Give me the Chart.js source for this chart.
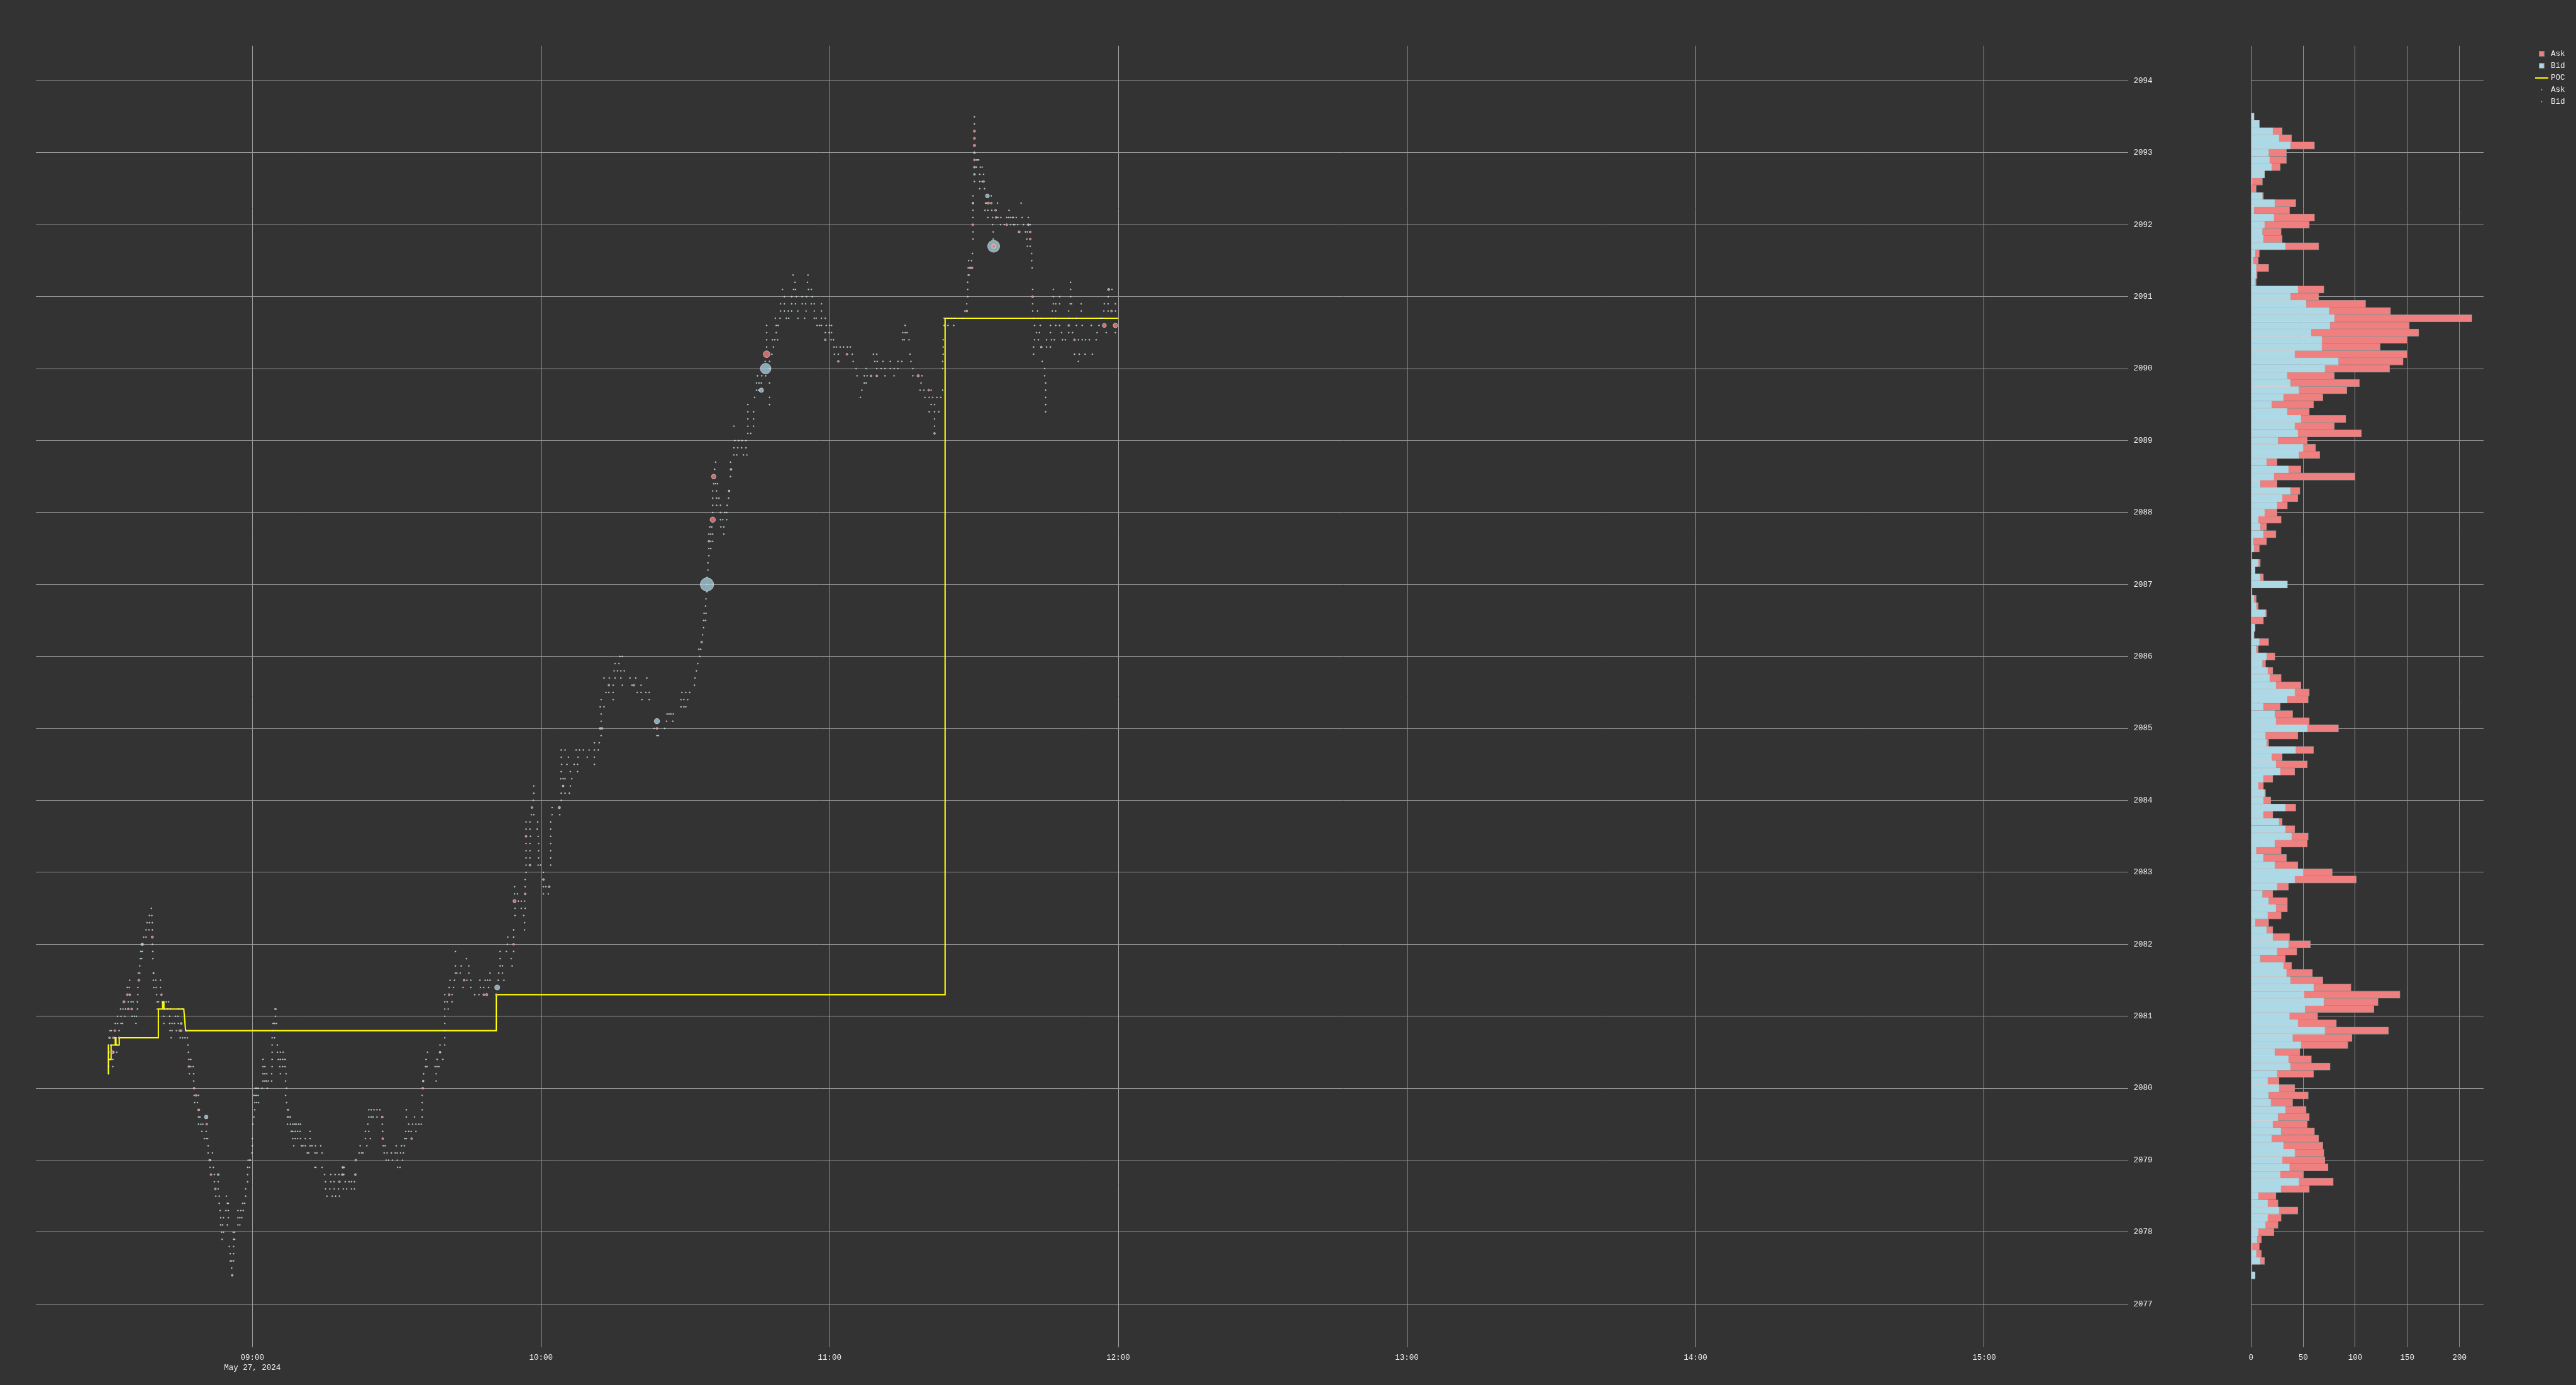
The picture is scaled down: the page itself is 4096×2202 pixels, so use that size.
<!DOCTYPE html>
<html><head><meta charset="utf-8">
<script src="https://cdn.jsdelivr.net/npm/chart.js@4.4.1/dist/chart.umd.min.js"></script>
<style>
html,body{margin:0;padding:0;background:#333333;width:4096px;height:2202px;overflow:hidden}
canvas{position:absolute;left:0;top:0}
</style></head><body>
<canvas id="main" width="4096" height="2202"></canvas>
<canvas id="profile" width="4096" height="2202"></canvas>
<script>
// ---------------- DATA ----------------
const sessionStart = 540;            // 09:00 in minutes after midnight; trade times below are minutes after 09:00
const dateLabel = 'May 27, 2024';
const timeTickValues = [540, 600, 660, 720, 780, 840, 900];
const timeTickLabels = ['09:00', '10:00', '11:00', '12:00', '13:00', '14:00', '15:00'];
const priceTicks = [2077,2078,2079,2080,2081,2082,2083,2084,2085,2086,2087,2088,2089,2090,2091,2092,2093,2094];
const volumeTicks = [0, 50, 100, 150, 200];

// POC path (minutes after 09:00, price)
const pocTimes  = [-29.94,-29.94,-29.94,-29.37,-29.37,-28.5,-28.5,-28.35,-28.35,-27.67,-27.67,-19.54,-19.54,-18.67,-18.67,-18.39,-18.39,-14.26,-13.88,50.7,50.7,144.0,144.0,180.0];
const pocPrices = [2080.2,2080.6,2080.4,2080.4,2080.6,2080.6,2080.7,2080.7,2080.6,2080.6,2080.7,2080.7,2081.1,2081.1,2081.2,2081.2,2081.1,2081.1,2080.8,2080.8,2081.3,2081.3,2090.7,2090.7];

// Ask prints with visible size: [minutes after 09:00, price, lots]
const askTrades = [
[-20.8,2082.1,4],[-23.6,2081.5,4],[-26.0,2081.3,3],[-25.5,2081.3,3],[-18.9,2081.3,3],[-26.7,2081.2,5],[-25.8,2081.1,3],[-25.1,2081.1,3],[-18.4,2081.1,3],[-28.6,2080.8,3],[-15.1,2080.8,3],[-14.8,2080.8,3],[-29.7,2080.7,3],[-28.9,2080.7,3],[-27.7,2080.7,3],[-29.1,2080.5,8],[-13.2,2080.3,3],[-12.1,2080.0,3],[-11.7,2079.9,3],
[-11.2,2079.7,3],[-9.5,2079.5,3],[-8.9,2079.0,3],[-8.6,2078.8,3],[-7.7,2078.6,3],[18.1,2078.7,3],[21.5,2079.0,3],[27.1,2079.3,3],[33.1,2079.3,3],[27.0,2079.6,3],[35.4,2080.0,3],[40.9,2081.3,3],[48.1,2081.3,3],[48.7,2081.3,5],[50.7,2081.3,3],[44.0,2081.5,3],[54.3,2082.0,3],[54.5,2082.6,8],[56.7,2082.7,3],[57.7,2083.1,3],[56.9,2083.5,3],[58.1,2083.9,3],
[72.7,2085.0,3],[84.1,2085.0,3],[74.1,2085.6,3],[79.3,2085.6,3],[93.4,2086.2,3],[94.9,2087.6,3],[95.7,2087.9,23],[95.9,2088.5,16],[106.9,2090.2,36],[119.1,2090.4,3],[123.6,2090.2,3],[121.8,2090.1,3],[128.6,2089.9,3],[129.8,2089.9,3],[138.4,2089.9,5],[140.6,2089.7,3],[141.8,2089.1,3],[148.5,2090.8,3],[149.2,2091.4,3],[149.6,2091.4,3],
[150.1,2093.3,4],[150.1,2093.2,4],[150.1,2093.1,5],[150.1,2092.9,3],[152.0,2092.6,3],[153.0,2092.3,4],[153.6,2092.3,3],[154.5,2092.2,3],[154.6,2092.1,3],[149.75,2092.0,3],[156.8,2092.0,3],[159.4,2091.9,4],[161.7,2091.9,3],[161.7,2091.8,3],[154.1,2091.7,13],[162.2,2091.0,3],[178.6,2090.8,3],[169.7,2090.6,3],[177.1,2090.6,13],[179.4,2090.6,16],[170.9,2090.4,3],[164.0,2090.3,3]
];

// Bid prints with visible size: [minutes after 09:00, price, lots]
const bidTrades = [
[-22.9,2082.0,6],[-14.8,2080.9,3],[-9.6,2079.6,11],[-7.1,2078.8,3],[-4.2,2077.4,3],[18.7,2078.8,3],[21.4,2078.8,3],[18.8,2078.9,3],[35.5,2080.1,3],[39.0,2080.5,3],[50.9,2081.4,20],[61.7,2082.8,3],[60.5,2082.9,3],[63.8,2083.9,5],[64.6,2084.2,3],
[72.3,2085.0,3],[84.1,2085.1,23],[94.5,2087.0,141],[99.1,2088.3,3],[99.5,2088.6,3],[105.8,2089.7,16],[106.7,2090.0,91],
[150.1,2093.0,3],[150.1,2092.8,3],[150.1,2092.7,3],[152.8,2092.4,12],[149.8,2092.3,3],[161.3,2092.0,3],[154.1,2091.7,114],[178.0,2091.1,4]
];

// Single-lot prints per price row: [price, [minutes after 09:00 ...]]
const smallTradeRows = [
[2082.5,[-21.0]],[2082.4,[-21.4,-20.9]],[2082.3,[-21.9,-21.4,-20.8]],[2082.2,[-22.1,-21.5,-20.8]],[2082.1,[-22.6,-22.1]],[2082.0,[-20.8]],
[2081.9,[-23.2,-22.9,-20.7]],[2081.8,[-23.3,-23.0,-20.7]],[2081.7,[-23.4]],[2081.6,[-23.7,-23.4,-20.6,-20.5]],
[2081.5,[-25.5,-20.6,-20.1,-19.1]],[2081.4,[-26.0,-25.6,-23.8,-20.5,-20.0,-19.1]],[2081.3,[-23.8,-19.9]],
[2081.2,[-25.8,-25.2,-24.8,-23.9,-19.8,-19.5,-18.7,-17.9,-17.4]],
[2081.1,[-27.4,-26.9,-26.4,-23.9,-19.8,-17.6,-17.0,-15.4,-14.6]],
[2081.0,[-28.0,-27.3,-26.5,-25.0,-24.5,-24.1,-18.4,-17.2,-16.0,-15.5]],
[2080.9,[-28.5,-28.0,-27.3,-27.0,-24.2,-18.4,-17.2,-16.7,-16.2,-15.4]],
[2080.8,[-29.6,-29.3,-27.7,-17.1,-16.7,-15.8,-13.7]],
[2080.7,[-28.6,-16.9,-15.0,-14.5,-14.0,-13.5]],
[2080.6,[-29.9,-29.4,-28.2,-13.4]],[2080.5,[-29.8,-28.8,-28.2,-13.3]],[2080.4,[-29.9,-29.0,-13.2,-12.8]],
[2080.3,[-29.9,-29.0,-12.8,-12.3]],[2080.2,[-29.9,-13.1,-12.2]],[2080.1,[-12.2]],[2079.9,[-12.1,-11.2]],
[2079.8,[-12.0,-11.4,0.5,0.9,1.3,7.1,35.3]],
[2079.7,[-11.0,0.5,7.3,7.5,24.2,24.7,25.3,25.9,26.5,32.0,35.3]],
[2079.6,[-11.2,-10.9,0.3,7.3,7.6,7.9,24.2,24.7,25.1,25.9,32.0,33.7,35.3]],
[2079.5,[-11.2,-10.7,-10.3,0.1,7.3,7.9,8.4,8.8,9.1,9.6,10.0,24.0,27.0,32.5,33.3,34.0,34.6,35.1]],
[2079.4,[-10.5,-9.6,8.1,8.4,8.9,9.4,9.9,12.0,23.5,24.2,27.1,31.9,32.5,33.0,34.0]],
[2079.3,[-10.0,-9.6,-9.3,0.0,8.4,8.9,9.4,10.0,11.0,12.0,23.5,24.5,31.7,32.0]],
[2079.2,[-9.2,0.0,8.6,10.2,10.5,11.0,12.0,12.4,13.1,14.2,22.4,23.8,27.2,27.6,29.9,31.0,31.6]],
[2079.1,[-9.2,-8.3,-0.1,11.4,11.7,13.0,13.4,14.5,22.2,22.7,23.0,27.4,28.0,28.9,29.7,30.1,30.8,31.4]],
[2079.0,[-8.7,-0.9,-0.6,-0.4,27.8,28.3,29.1,30.1,31.2]],
[2078.9,[-8.8,-8.1,-1.0,-0.6,13.0,13.2,14.5,19.1,30.2,30.7]],
[2078.8,[-7.9,-1.0,15.0,16.3,17.2,18.0,19.0]],
[2078.7,[-7.9,-7.1,-1.0,15.2,16.3,17.0,19.3,20.1,20.6,21.2]],
[2078.6,[-7.1,-1.4,15.2,16.1,17.0,17.9,18.9,19.6,20.6,21.2]],
[2078.5,[-7.6,-6.9,-5.4,-1.4,15.5,16.6,17.3,18.1]],
[2078.4,[-6.9,-5.2,-5.0,-2.0,-1.6]],[2078.3,[-6.7,-5.5,-5.0,-3.0,-2.4,-1.9]],[2078.2,[-6.6,-6.0,-5.0,-3.0,-2.6,-2.2]],
[2078.1,[-6.6,-6.2,-5.2,-3.0,-2.6]],[2078.0,[-6.4,-6.0,-4.0,-3.7]],[2077.9,[-6.3,-3.9,-3.7]],[2077.8,[-4.8,-3.9]],
[2077.7,[-4.6,-3.9]],[2077.6,[-4.6,-4.3,-3.9]],[2077.5,[-4.3]],
[2079.9,[0.3,0.6,0.9,1.2,6.9,35.3]],[2080.0,[0.6,0.9,1.2,2.0,3.1,7.1]],
[2080.1,[2.2,2.6,2.9,3.3,4.0,6.9,38.2]],[2080.2,[2.2,2.6,3.0,4.0,5.8,7.0,35.6,38.2]],
[2080.3,[2.2,2.6,4.1,5.7,6.3,6.8,36.0,36.3,38.0,38.4,38.8]],[2080.4,[2.2,4.1,5.4,5.8,6.3,6.8,36.1,38.4,39.6]],
[2080.5,[4.1,5.2,5.8,6.4,36.4]],[2080.6,[4.1,5.2,39.0,40.0]],[2080.7,[4.1,4.6,40.0]],[2080.8,[4.3,40.0]],
[2080.9,[4.3,4.6,5.0,40.0]],[2081.0,[4.8,40.0]],[2081.1,[4.7,4.9,40.0,40.7]],[2081.2,[40.0,40.5,41.5]],
[2081.3,[40.0,41.5,46.2,47.1]],[2081.4,[40.9,41.8,43.8,45.4,47.4,48.1,49.1]],
[2081.5,[41.1,42.0,44.6,45.4,47.3,48.4,48.9,49.4,51.1,52.3]],[2081.6,[42.2,42.5,43.2,45.0,49.4,51.2,52.0]],
[2081.7,[42.2,43.4,45.0,51.5,52.0,54.0]],[2081.8,[44.5,51.5,53.8]],[2081.9,[42.2,51.5,52.8,54.3]],
[2082.0,[53.0]],[2082.1,[53.1,54.3]],[2082.2,[54.3,56.6]],[2082.3,[56.6]],[2082.4,[54.6,56.4]],
[2082.5,[54.6,55.9,56.7]],[2082.6,[55.3,55.9,56.6]],[2082.7,[54.5,55.1,60.5,61.5]],[2082.8,[54.5,56.7,60.5,61.0]],
[2082.9,[56.7]],[2083.0,[56.9,60.5]],[2083.1,[56.9,59.4,59.9,62.0]],[2083.2,[56.9,57.7,59.5,62.0]],
[2083.3,[56.9,57.7,59.5,62.0]],[2083.4,[56.9,57.7,59.5,62.0]],[2083.5,[57.8,59.4,62.0]],[2083.6,[56.9,57.7,59.2,62.0]],
[2083.7,[56.9,57.7,59.3,62.0]],[2083.8,[58.0,58.5,62.3,63.9]],[2083.9,[62.3]],[2084.0,[58.4,64.2]],
[2084.1,[58.5,64.2,65.0,65.9]],[2084.2,[58.5,66.1]],[2084.3,[64.1,64.6,65.0,66.4]],[2084.4,[64.2,66.1,67.6]],
[2084.5,[64.3,65.4,66.9,67.6,71.1]],
[2084.6,[64.2,65.7,67.7,69.6,71.1]],[2084.7,[64.2,65.0,67.3,68.0,68.8,70.0,71.1,71.9]],[2084.8,[71.1,72.1]],
[2084.9,[72.5,84.1,84.4]],[2085.0,[83.5,85.7]],[2085.1,[72.5,86.1,87.4]],[2085.2,[72.5,86.2,86.6,87.0,87.5]],
[2085.3,[72.3,73.1,89.1,89.7,90.1]],[2085.4,[72.5,75.0,81.0,82.5,89.1,89.7,90.5]],
[2085.5,[73.5,74.1,75.0,80.0,80.8,81.8,82.5,89.3,90.1,90.9]],[2085.6,[75.0,76.9,78.9,80.8,91.9]],
[2085.7,[73.1,74.2,75.4,76.6,78.5,79.7,82.0,92.0]],[2085.8,[75.2,75.9,76.6,77.3,92.3]],[2085.9,[75.4,76.2,92.6]],
[2086.0,[76.4,76.9,93.0]],[2086.1,[92.8,93.2]],[2086.3,[93.6]],[2086.4,[93.8]],[2086.5,[93.8,94.2]],
[2086.6,[93.9,94.3]],[2086.7,[94.2]],[2086.8,[94.3]],[2086.9,[94.5]],[2087.0,[94.5]],[2087.1,[94.5]],
[2087.2,[94.7]],[2087.3,[94.7]],[2087.4,[94.9]],[2087.5,[94.9,95.3]],[2087.6,[95.3,95.7]],
[2087.7,[94.9,95.3,95.7,98.0]],[2087.8,[95.1,95.5,97.4,98.0]],[2087.9,[97.3,97.8,98.6]],
[2088.0,[95.7,97.3,98.2,98.6]],[2088.1,[95.7,96.5,97.3,98.7]],[2088.2,[95.7,96.5,97.0,99.0]],
[2088.3,[95.7,96.5]],[2088.4,[95.9,96.3,96.7]],[2088.5,[99.4]],[2088.6,[96.1]],[2088.7,[96.3,99.4]],
[2088.8,[100.1,100.7,102.1,102.8]],[2088.9,[100.1,100.9,101.7,102.6]],[2089.0,[100.3,101.1,101.8,102.6]],
[2089.1,[103.0,103.6]],[2089.2,[100.1,103.0,104.2,141.8]],[2089.3,[103.0,104.2,141.8]],
[2089.4,[103.0,104.2,140.7,141.8,142.7,164.9]],[2089.5,[103.0,107.5,141.1,141.8,164.9]],
[2089.6,[104.4,107.5,126.4,139.8,140.7,141.4,142.3,143.1,164.9]],
[2089.7,[104.8,105.2,126.7,138.8,139.6,141.1,143.5,164.9]],
[2089.8,[104.8,105.3,105.8,107.5,127.2,127.6,139.0,164.9]],
[2089.9,[105.0,105.9,106.7,125.7,127.2,127.8,131.5,133.4,137.3,139.2,164.7]],
[2090.0,[107.5,125.5,127.6,129.8,130.7,131.5,132.6,133.4,134.2,137.3,143.5,164.7]],
[2090.1,[106.6,107.5,124.9,129.4,129.9,131.1,132.6,134.2,135.0,136.9,143.5,164.2,171.7]],
[2090.2,[108.0,121.0,121.8,124.7,129.1,129.8,136.7,143.6,162.4,170.9,171.9,173.1,174.6]],
[2090.3,[106.9,108.3,120.9,121.4,122.2,122.9,123.7,124.3,143.6,162.4,165.1,165.9]],
[2090.4,[106.9,108.1,108.6,109.2,120.3,120.8,135.2,135.5,136.5,143.6,162.6,163.4,165.1,166.1,166.7,168.4,169.0,171.7,172.5,173.2,174.0,175.4]],
[2090.5,[106.9,108.9,119.1,119.9,120.4,135.2,135.7,136.1,163.0,163.6,165.9,168.2,169.7,170.5,175.6,177.5,179.4]],
[2090.6,[106.9,108.9,109.3,117.4,117.9,118.3,119.3,120.0,120.4,135.7,143.8,144.6,145.8,162.6,163.8,165.9,167.0,167.8,171.3,172.5,174.4,176.0]],
[2090.7,[108.7,109.7,111.0,111.5,113.4,114.8,116.8,117.2,118.3,119.1,143.8,144.6,145.4,146.0,147.7,162.4,164.0,166.1,167.0,169.7,171.3,176.3,176.7]],
[2090.8,[109.8,110.6,111.4,112.1,113.4,115.1,116.8,118.3,148.1,162.2,163.2,166.3,167.0,169.7,172.3,177.0,177.9,179.4]],
[2090.9,[109.8,110.6,112.1,112.9,114.3,115.0,116.2,116.8,118.3,148.5,162.2,166.5,167.0,167.8,170.0,170.3,172.3,177.1,177.9,179.4]],
[2091.0,[110.6,112.1,113.1,114.3,115.2,116.4,148.7,166.5,167.8,170.1,177.9]],
[2091.1,[110.2,112.5,112.9,115.6,116.2,148.7,162.2,166.5,170.1,178.7]],
[2091.2,[112.8,115.4,148.7,170.1]],[2091.3,[112.4,115.5,148.8,149.0]],[2091.4,[148.8,162.1]],
[2091.5,[148.9,149.5,162.0]],[2091.6,[149.7,162.0]],[2091.7,[161.1,161.7]],[2091.8,[149.8,154.0,161.0]],
[2091.9,[149.8,154.0,160.7,161.1]],
[2092.0,[153.9,155.5,156.3,157.6,158.2,158.5,159.1,160.3,161.7]],
[2092.1,[149.8,152.9,153.9,155.0,155.6,156.8,157.2,157.6,158.0,158.2,158.8,160.0,161.3]],
[2092.2,[149.8,152.3,152.9,153.7,157.3]],[2092.3,[152.4,152.6,154.9,159.8]],[2092.4,[149.8,153.6]],
[2092.5,[151.2,152.2]],[2092.6,[150.1,151.2,151.7]],[2092.7,[151.2,152.0]],[2092.8,[150.5,151.3,151.7]],
[2092.9,[150.5,150.8,151.0]],[2093.4,[150.1]],[2093.5,[150.1]]
];

// Volume profile (price rows, bid and ask volume)
const profilePrices = [2093.5,2093.4,2093.3,2093.2,2093.1,2093.0,2092.9,2092.8,2092.7,2092.6,2092.5,2092.4,2092.3,2092.2,2092.1,2092.0,2091.9,2091.8,2091.7,2091.6,2091.5,2091.4,2091.3,2091.2,2091.1,2091.0,2090.9,2090.8,2090.7,2090.6,2090.5,2090.4,2090.3,2090.2,2090.1,2090.0,2089.9,2089.8,2089.7,2089.6,2089.5,2089.4,2089.3,2089.2,2089.1,2089.0,2088.9,2088.8,2088.7,2088.6,2088.5,2088.4,2088.3,2088.2,2088.1,2088.0,2087.9,2087.8,2087.7,2087.6,2087.5,2087.4,2087.3,2087.2,2087.1,2087.0,2086.9,2086.8,2086.7,2086.6,2086.5,2086.4,2086.3,2086.2,2086.1,2086.0,2085.9,2085.8,2085.7,2085.6,2085.5,2085.4,2085.3,2085.2,2085.1,2085.0,2084.9,2084.8,2084.7,2084.6,2084.5,2084.4,2084.3,2084.2,2084.1,2084.0,2083.9,2083.8,2083.7,2083.6,2083.5,2083.4,2083.3,2083.2,2083.1,2083.0,2082.9,2082.8,2082.7,2082.6,2082.5,2082.4,2082.3,2082.2,2082.1,2082.0,2081.9,2081.8,2081.7,2081.6,2081.5,2081.4,2081.3,2081.2,2081.1,2081.0,2080.9,2080.8,2080.7,2080.6,2080.5,2080.4,2080.3,2080.2,2080.1,2080.0,2079.9,2079.8,2079.7,2079.6,2079.5,2079.4,2079.3,2079.2,2079.1,2079.0,2078.9,2078.8,2078.7,2078.6,2078.5,2078.4,2078.3,2078.2,2078.1,2078.0,2077.9,2077.8,2077.7,2077.6,2077.5,2077.4];
const profileBid = [3,8,21,27,38,17,18,20,13,1, 0,11,23,3,22,13,11,12,33,4, 2,5,5,4,45,38,53,75,80,76, 58,68,68,42,84,71,35,38,46,31, 20,35,48,42,45,26,50,46,15,36, 22,9,38,30,25,13,7,9,12,2, 3,0,7,4,9,35,1,3,5,14, 0,4,3,8,5,15,11,16,18,24, 42,35,12,23,24,54,14,15,43,20, 24,28,12,7,13,12,33,12,27,33, 39,23,5,12,23,50,42,25,11,17, 24,16,4,15,21,36,25,9,31,34, 38,60,51,70,52,37,45,71,40,48, 23,36,38,25,16,27,17,19,33,26, 21,29,20,31,42,30,37,28,46,29, 7,16,27,16,14,7,6,1,5,9, 0,4];
const profileAsk = [0,0,9,12,23,17,16,8,0,10, 5,1,20,34,39,43,18,18,32,4, 5,12,1,1,25,27,57,59,132,76, 103,82,56,108,62,62,45,66,46,38, 40,21,43,38,61,28,12,20,10,12, 78,16,9,15,10,12,22,6,12,13, 5,1,2,0,3,0,0,2,2,1, 12,0,0,9,2,8,3,5,11,24, 14,20,16,17,32,30,31,2,17,10, 30,14,9,5,1,7,10,9,3,9, 16,31,24,22,22,28,59,11,10,18, 11,13,13,6,16,21,19,24,8,25, 31,36,92,52,66,27,37,61,57,45, 24,22,38,35,11,15,38,21,20,30, 33,32,45,38,28,41,37,22,33,27, 17,10,18,13,12,15,4,7,5,4, 1,0];

// ---------------- STYLE ----------------
const FONT = {family: "'Liberation Mono', 'Courier New', monospace", size: 12.5, lineHeight: 1.31};
const TEXT = '#eeeeee';
const GRID = '#9a9a9a';
const PRICE_MIN = 2076.4, PRICE_MAX = 2094.486;
const bubbleR = v => 0.9 * Math.sqrt(v);

const toBubble = list => list.map(([m, p, v]) => ({x: sessionStart + m, y: p, r: bubbleR(v)}));
const smallPoints = smallTradeRows.flatMap(([p, times]) => times.map(m => ({x: sessionStart + m, y: p, r: bubbleR(1)})));
const askPoints = toBubble(askTrades);
const bidPoints = smallPoints.concat(toBubble(bidTrades));
const pocPoints = pocTimes.map((m, i) => ({x: sessionStart + m, y: pocPrices[i]}));

function symbol(w, h, draw) {
  const c = document.createElement('canvas'); c.width = w; c.height = h;
  draw(c.getContext('2d')); return c;
}
const sq = col => symbol(9, 9, g => { g.fillStyle = col; g.fillRect(0, 0, 9, 9); g.strokeStyle = '#7a7a7a'; g.lineWidth = 1; g.strokeRect(0.5, 0.5, 8, 8); });
const ln = col => symbol(21, 2, g => { g.fillStyle = col; g.fillRect(0, 0, 21, 2); });
const dot = () => symbol(4, 4, g => { g.fillStyle = '#b5b5b5'; g.beginPath(); g.arc(2, 2, 1.1, 0, Math.PI * 2); g.fill(); });
const legendEntries = [
  {text: 'Ask', sym: sq('#f08080')},
  {text: 'Bid', sym: sq('#add8e6')},
  {text: 'POC', sym: ln('#ffff00')},
  {text: 'Ask', sym: dot()},
  {text: 'Bid', sym: dot()}
];

const setTicks = arr => axis => { axis.ticks = arr.map(v => ({value: v})); };

new Chart(document.getElementById('main'), {
  type: 'bubble',
  data: {
    datasets: [
      {type: 'line', label: 'POC', data: pocPoints, borderColor: '#ffff00', borderWidth: 2.1, pointRadius: 0, fill: false, tension: 0, order: 2},
      {label: 'Ask', data: askPoints, backgroundColor: 'rgba(240,128,128,0.78)', borderColor: 'rgba(255,255,255,0.85)', borderWidth: 0.6, order: 0},
      {label: 'Bid', data: bidPoints, backgroundColor: 'rgba(173,216,230,0.72)', borderColor: 'rgba(255,255,255,0.85)', borderWidth: 0.6, order: 1}
    ]
  },
  options: {
    responsive: false, animation: false, devicePixelRatio: 1,
    layout: {padding: {left: 57.1, right: 7.55, top: 72.8, bottom: 0}},
    scales: {
      x: {
        type: 'linear', min: 495, max: 930, position: 'bottom', offset: false,
        afterBuildTicks: setTicks(timeTickValues),
        afterFit: s => { s.height = 60; },
        grid: {color: GRID, lineWidth: 1, drawTicks: false},
        border: {display: false},
        ticks: {color: TEXT, font: FONT, padding: 8.2, maxRotation: 0, autoSkip: false,
          callback: (v, i) => i === 0 ? [timeTickLabels[i], dateLabel] : timeTickLabels[i]}
      },
      y: {
        type: 'linear', min: PRICE_MIN, max: PRICE_MAX, position: 'right', offset: false,
        afterBuildTicks: setTicks(priceTicks),
        afterFit: s => { s.width = 641.8; },
        grid: {color: GRID, lineWidth: 1, drawTicks: false},
        border: {display: false},
        ticks: {color: TEXT, font: FONT, padding: 8, callback: v => String(v)}
      }
    },
    plugins: {
      tooltip: {enabled: false},
      legend: {
        position: 'right', align: 'start',
        labels: {
          usePointStyle: true, pointStyleWidth: 17, padding: 6.5, color: TEXT, font: FONT,
          generateLabels: () => legendEntries.map((e, i) => ({
            text: e.text, pointStyle: e.sym, fillStyle: 'rgba(0,0,0,0)', strokeStyle: 'rgba(0,0,0,0)',
            lineWidth: 0, hidden: false, fontColor: TEXT, index: i
          }))
        }
      }
    }
  }
});

new Chart(document.getElementById('profile'), {
  type: 'bar',
  data: {
    datasets: [
      {label: 'Bid', data: profilePrices.map((p, i) => ({x: profileBid[i], y: p})), backgroundColor: '#add8e6', borderColor: 'rgba(235,235,235,0.75)', borderWidth: 0.8},
      {label: 'Ask', data: profilePrices.map((p, i) => ({x: profileAsk[i], y: p})), backgroundColor: '#f08080', borderColor: 'rgba(150,150,150,0.9)', borderWidth: 0.8}
    ]
  },
  options: {
    indexAxis: 'y', responsive: false, animation: false, devicePixelRatio: 1,
    layout: {padding: {left: 3579.3, right: 146.9, top: 72.8, bottom: 0}},
    datasets: {bar: {categoryPercentage: 1, barPercentage: 1}},
    scales: {
      x: {
        type: 'linear', min: 0, max: 223.2, stacked: true, position: 'bottom', offset: false,
        afterBuildTicks: setTicks(volumeTicks),
        afterFit: s => { s.height = 60; },
        grid: {color: GRID, lineWidth: 1, drawTicks: false, offset: false},
        border: {display: false},
        ticks: {color: TEXT, font: FONT, padding: 8.2, maxRotation: 0, autoSkip: false}
      },
      y: {
        type: 'linear', min: PRICE_MIN, max: PRICE_MAX, stacked: true, position: 'left', offset: false,
        afterBuildTicks: setTicks(priceTicks),
        afterFit: s => { s.width = 0; },
        grid: {color: GRID, lineWidth: 1, drawTicks: false, offset: false},
        border: {display: false},
        ticks: {display: false}
      }
    },
    plugins: {legend: {display: false}, tooltip: {enabled: false}}
  }
});
</script>
</body></html>
